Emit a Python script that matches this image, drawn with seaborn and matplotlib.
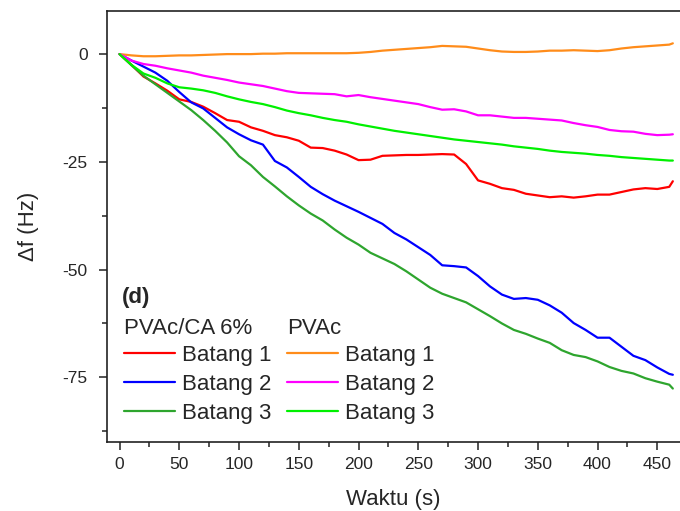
import numpy as np
import pandas as pd
import matplotlib
matplotlib.use("Agg")
import matplotlib.pyplot as plt
from matplotlib.ticker import MultipleLocator
import seaborn as sns

# Time axis (s)
waktu = [0, 10, 20, 30, 40, 50, 60, 70, 80, 90, 100, 110, 120, 130, 140, 150,
         160, 170, 180, 190, 200, 210, 220, 230, 240, 250, 260, 270, 280, 290,
         300, 310, 320, 330, 340, 350, 360, 370, 380, 390, 400, 410, 420, 430,
         440, 450, 460, 463]

# PVAc/CA 6% coated rods
ca_batang1 = [0, -2.5, -5.2, -6.8, -8.5, -10.5, -11.1, -12.2, -13.7, -15.3, -15.7,
              -17.0, -17.8, -18.8, -19.3, -20.1, -21.7, -21.8, -22.4, -23.3, -24.6,
              -24.5, -23.6, -23.5, -23.4, -23.4, -23.3, -23.2, -23.3, -25.5, -29.3,
              -30.1, -31.1, -31.5, -32.4, -32.8, -33.2, -33.0, -33.3, -33.0, -32.6,
              -32.6, -32.0, -31.4, -31.1, -31.3, -30.8, -29.5]
ca_batang2 = [0, -1.5, -2.9, -4.3, -6.2, -8.8, -11.2, -12.6, -14.8, -17.0, -18.6,
              -20.0, -21.0, -24.8, -26.3, -28.5, -30.8, -32.5, -34.0, -35.3, -36.6,
              -38.0, -39.4, -41.5, -43.0, -44.8, -46.6, -49.0, -49.2, -49.5, -51.5,
              -53.9, -55.8, -56.8, -56.6, -57.0, -58.3, -60.0, -62.4, -64.0, -65.8,
              -65.8, -67.9, -70.0, -71.0, -72.7, -74.2, -74.4]
ca_batang3 = [0, -2.6, -5.0, -7.0, -9.0, -11.0, -13.0, -15.3, -17.8, -20.5, -23.7,
              -25.8, -28.5, -30.7, -33.0, -35.1, -37.0, -38.6, -40.7, -42.6, -44.2,
              -46.1, -47.4, -48.7, -50.4, -52.3, -54.2, -55.6, -56.6, -57.6, -59.2,
              -60.8, -62.5, -64.0, -64.9, -66.0, -67.0, -68.7, -69.8, -70.3, -71.3,
              -72.6, -73.5, -74.1, -75.2, -76.0, -76.7, -77.6]

# Plain PVAc coated rods
pvac_batang1 = [0, -0.3, -0.5, -0.5, -0.4, -0.3, -0.3, -0.2, -0.1, 0, 0, 0, 0.1,
                0.1, 0.2, 0.2, 0.2, 0.2, 0.2, 0.2, 0.3, 0.5, 0.8, 1.0, 1.2, 1.4,
                1.6, 1.9, 1.8, 1.7, 1.3, 0.9, 0.6, 0.5, 0.5, 0.6, 0.8, 0.8, 0.9,
                0.8, 0.7, 0.9, 1.3, 1.6, 1.8, 2.0, 2.2, 2.5]
pvac_batang2 = [0, -1.5, -2.3, -2.7, -3.3, -3.8, -4.3, -5.0, -5.5, -6.0, -6.6,
                -7.0, -7.4, -8.0, -8.6, -9.0, -9.1, -9.2, -9.3, -9.8, -9.5, -10.0,
                -10.4, -10.8, -11.2, -11.6, -12.3, -12.9, -12.8, -13.3, -14.2,
                -14.2, -14.5, -14.8, -14.8, -15.0, -15.2, -15.4, -16.0, -16.5,
                -16.9, -17.6, -17.9, -18.0, -18.5, -18.8, -18.7, -18.6]
pvac_batang3 = [0, -2.5, -4.5, -5.5, -6.8, -7.7, -8.0, -8.4, -9.0, -9.8, -10.5,
                -11.1, -11.6, -12.3, -13.1, -13.7, -14.2, -14.8, -15.3, -15.7,
                -16.3, -16.8, -17.3, -17.8, -18.2, -18.6, -19.0, -19.4, -19.8,
                -20.1, -20.4, -20.7, -21.0, -21.4, -21.7, -22.0, -22.4, -22.7,
                -22.9, -23.1, -23.4, -23.6, -23.9, -24.1, -24.3, -24.5, -24.7,
                -24.7]

batang_labels = ["Batang 1", "Batang 2", "Batang 3"]
group_titles = ["PVAc/CA 6%", "PVAc"]
ca_colors = ["#FF0000", "#0000FF", "#2EA52E"]
pvac_colors = ["#FF8C1A", "#FF00FF", "#00F000"]

sns.set_style("ticks")
plt.rcParams["font.family"] = ["Liberation Sans", "DejaVu Sans"]
plt.rcParams["axes.unicode_minus"] = False

fig = plt.figure(figsize=(6.8, 5.11), dpi=100)
ax = fig.add_axes([107 / 680, 1 - 442 / 511, 1 - 107 / 680, (442 - 11) / 511])

ca_series = [ca_batang1, ca_batang2, ca_batang3]
pvac_series = [pvac_batang1, pvac_batang2, pvac_batang3]

ca_lines, pvac_lines = [], []
for vals, col, lab in zip(ca_series, ca_colors, batang_labels):
    sns.lineplot(x=waktu, y=vals, color=col, lw=1.6, ax=ax, label=lab)
    ca_lines.append(ax.lines[-1])
for vals, col, lab in zip(pvac_series, pvac_colors, batang_labels):
    sns.lineplot(x=waktu, y=vals, color=col, lw=1.6, ax=ax, label=lab)
    pvac_lines.append(ax.lines[-1])

ax.set_xlim(-10.5, 469)
ax.set_ylim(-90, 10)
ax.xaxis.set_major_locator(MultipleLocator(50))
ax.xaxis.set_minor_locator(MultipleLocator(25))
ax.yaxis.set_major_locator(MultipleLocator(25))
ax.yaxis.set_minor_locator(MultipleLocator(12.5))
ax.tick_params(which="major", direction="out", length=6, width=1.1,
               labelsize=12.5, pad=5, color="#222222")
ax.tick_params(which="minor", direction="out", length=3.5, width=1.1,
               color="#222222")
ax.tick_params(axis="y", which="major", pad=8)
for side in ["left", "top", "bottom"]:
    ax.spines[side].set_linewidth(1.2)
    ax.spines[side].set_color("#222222")
ax.spines["right"].set_visible(False)

ax.set_xlabel("Waktu (s)", fontsize=16, labelpad=12)
ax.set_ylabel("\u0394f (Hz)", fontsize=16, labelpad=17)

leg = ax.legend(handles=ca_lines + pvac_lines, labels=batang_labels * 2,
                ncol=2, frameon=False, fontsize=16, loc="upper left",
                bbox_to_anchor=(124 / 680, 1 - 345 / 511),
                bbox_transform=fig.transFigure, borderpad=0, borderaxespad=0,
                handlelength=2.3, handletextpad=0.3, columnspacing=0.7,
                labelspacing=0.36)

fig.text(122 / 680, 1 - 298 / 511, "(d)", fontsize=16, fontweight="bold",
         va="center", ha="left")
fig.text(124 / 680, 1 - 328 / 511, group_titles[0], fontsize=16,
         va="center", ha="left")
fig.text(287 / 680, 1 - 328 / 511, group_titles[1], fontsize=16,
         va="center", ha="left")

fig.savefig("out.png", dpi=100)
